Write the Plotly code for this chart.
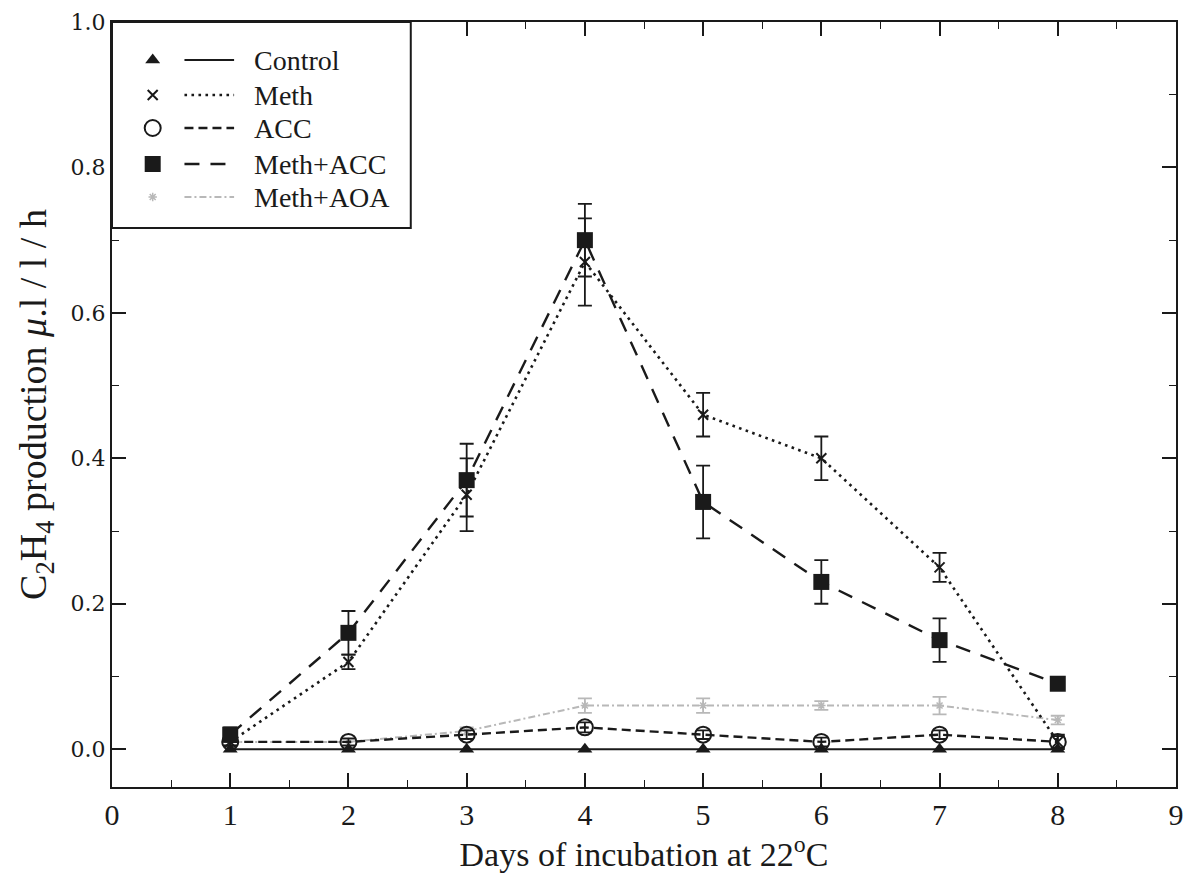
import plotly.graph_objects as go

# Ethylene production per treatment over the incubation period
days = [1, 2, 3, 4, 5, 6, 7, 8]

control = [0.0, 0.0, 0.0, 0.0, 0.0, 0.0, 0.0, 0.0]

meth = [0.01, 0.12, 0.35, 0.67, 0.46, 0.40, 0.25, 0.01]
meth_err = [0.005, 0.01, 0.05, 0.06, 0.03, 0.03, 0.02, 0.01]

acc = [0.01, 0.01, 0.02, 0.03, 0.02, 0.01, 0.02, 0.01]
acc_err = [0.005, 0.005, 0.006, 0.007, 0.006, 0.006, 0.006, 0.008]

meth_acc = [0.02, 0.16, 0.37, 0.70, 0.34, 0.23, 0.15, 0.09]
meth_acc_err = [0.01, 0.03, 0.05, 0.05, 0.05, 0.03, 0.03, 0.005]

meth_aoa = [0.01, 0.01, 0.025, 0.06, 0.06, 0.06, 0.06, 0.04]
meth_aoa_err = [0.004, 0.004, 0.005, 0.01, 0.01, 0.006, 0.012, 0.006]

series_names = ["Control", "Meth", "ACC", "Meth+ACC", "Meth+AOA"]

SERIF = "Liberation Serif, Times New Roman, serif"
INK = "#1a1a1a"
GREY = "#b8b8b8"

styles = {
    "Control": dict(line=dict(color=INK, width=2, dash="solid"),
                    marker=dict(symbol="triangle-up", size=13, color=INK)),
    "Meth": dict(line=dict(color=INK, width=2.6, dash="2.6px,4.4px"),
                 marker=dict(symbol="x-thin", size=10, color=INK,
                             line=dict(color=INK, width=2))),
    "ACC": dict(line=dict(color=INK, width=2.4, dash="9px,5px"),
                marker=dict(symbol="circle-open", size=16, color=INK,
                            line=dict(color=INK, width=2))),
    "Meth+ACC": dict(line=dict(color=INK, width=2.4, dash="15px,11px"),
                     marker=dict(symbol="square", size=16, color=INK)),
    "Meth+AOA": dict(line=dict(color=GREY, width=2, dash="7px,3px,2px,3px"),
                     marker=dict(symbol="asterisk-open", size=7, color=GREY,
                                 line=dict(color=GREY, width=1.5))),
}

values = {"Control": control, "Meth": meth, "ACC": acc,
          "Meth+ACC": meth_acc, "Meth+AOA": meth_aoa}
errors = {"Control": None, "Meth": meth_err, "ACC": acc_err,
          "Meth+ACC": meth_acc_err, "Meth+AOA": meth_aoa_err}

fig = go.Figure()

draw_order = ["Meth+AOA", "Control", "ACC", "Meth", "Meth+ACC"]
for name in draw_order:
    st = styles[name]
    err = errors[name]
    ecol = GREY if name == "Meth+AOA" else INK
    fig.add_trace(go.Scatter(
        x=days, y=values[name], mode="lines+markers", name=name,
        line=st["line"], marker=st["marker"], showlegend=False,
        error_y=(dict(type="data", array=err, visible=True, color=ecol,
                      thickness=1.8, width=7) if err is not None else None),
        xaxis="x", yaxis="y",
    ))

# Hand-built key in the upper-left corner: symbol, line sample, label
key_rows = [38, 73, 106, 142, 175]
for name, ry in zip(series_names, key_rows):
    st = styles[name]
    fig.add_trace(go.Scatter(x=[73, 123], y=[ry, ry], mode="lines",
                             line=st["line"], showlegend=False,
                             hoverinfo="skip", xaxis="x2", yaxis="y2"))
    fig.add_trace(go.Scatter(x=[41], y=[ry], mode="markers",
                             marker=st["marker"], showlegend=False,
                             hoverinfo="skip", xaxis="x2", yaxis="y2"))
    fig.add_annotation(x=141, y=ry, xref="x2", yref="y2", text=name,
                       showarrow=False, xanchor="left", yanchor="middle",
                       font=dict(family=SERIF, size=28, color=INK))

fig.add_shape(type="rect", xref="paper", yref="paper",
              x0=0, x1=0.2808, y0=0.7307, y1=1.0,
              line=dict(color=INK, width=2), layer="above")

axis_common = dict(
    showline=True, linecolor=INK, linewidth=2, mirror="allticks",
    ticks="inside", ticklen=14, tickwidth=1.6, tickcolor=INK,
    showgrid=False, zeroline=False,
)

fig.update_layout(
    width=1193, height=873,
    margin=dict(l=112, r=9, t=22, b=86),
    paper_bgcolor="white", plot_bgcolor="white",
    xaxis=dict(
        range=[0, 9], tickmode="array", tickvals=list(range(0, 10)),
        ticktext=[str(v) for v in range(0, 10)],
        tickfont=dict(family=SERIF, size=30, color=INK),
        minor=dict(dtick=0.5, ticks="inside", ticklen=7, tickwidth=1.4,
                   tickcolor=INK, showgrid=False),
        title=dict(text="Days of incubation at 22<sup>o</sup>C",
                   font=dict(family=SERIF, size=34, color=INK), standoff=6),
        **axis_common,
    ),
    yaxis=dict(
        range=[-0.052, 1.0], tickmode="array",
        tickvals=[0.0, 0.2, 0.4, 0.6, 0.8, 1.0],
        ticktext=["0.0", "0.2", "0.4", "0.6", "0.8", "1.0"],
        tickfont=dict(family="DejaVu Serif, serif", size=22, color=INK),
        minor=dict(dtick=0.1, tick0=0, ticks="inside", ticklen=7,
                   tickwidth=1.4, tickcolor=INK, showgrid=False),
        title=dict(text="C<sub>2</sub>H<sub>4</sub> production "
                        "<i>\u03bc</i>.l / l / h",
                   font=dict(family=SERIF, size=38, color=INK), standoff=12),
        **axis_common,
    ),
    xaxis2=dict(domain=[0, 0.2808], range=[0, 301], visible=False,
                anchor="y2", fixedrange=True),
    yaxis2=dict(domain=[0.7307, 1.0], range=[206, 0], visible=False,
                anchor="x2", fixedrange=True),
    showlegend=False,
)

fig.write_html("out.html")
